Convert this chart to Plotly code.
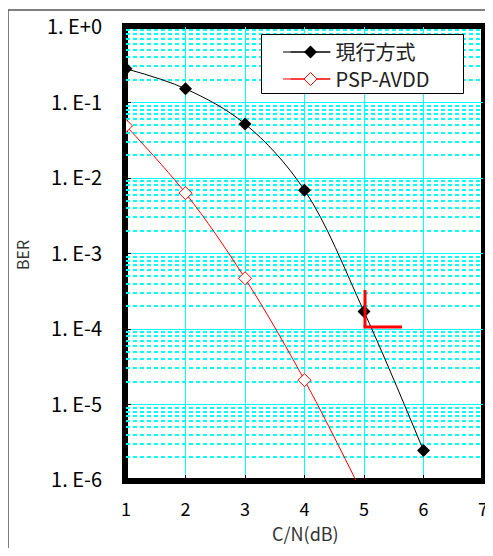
import plotly.graph_objects as go

cn_db = [1, 2, 3, 4, 5, 6]
ber_current = [0.28, 0.152, 0.052, 0.0069, 1.7e-4, 2.45e-6]
cn_db_psp = [1, 2, 3, 4, 5]
ber_psp = [0.049, 0.0063, 4.7e-4, 2.1e-5, 6e-7]
x_ticks = [1, 2, 3, 4, 5, 6, 7]
y_tickvals = [1e0, 1e-1, 1e-2, 1e-3, 1e-4, 1e-5, 1e-6]
y_ticktext = ["1. E+0", "1. E-1", "1. E-2", "1. E-3", "1. E-4", "1. E-5", "1. E-6"]
series_names = ["現行方式", "PSP-AVDD"]

minor_vals = [k * 10.0 ** d for d in range(-6, 0) for k in range(2, 10)]

# page is rendered with an 8px body margin -> work in page pixels, offset by 8
OFF = 8
W, H = 493 - 2 * OFF, 556 - 2 * OFF
L, R, T = 126 - OFF, 2, 27 - OFF
B = (H + OFF) - 480
pw, ph = W - L - R, H - T - B

def px(xp):
    return (xp - OFF - L) / pw

def py(yp):
    return (H - B - (yp - OFF)) / ph

FONT = "Noto Sans CJK JP"
CYAN = "#00FFFF"

fig = go.Figure()
fig.add_trace(go.Scatter(
    x=cn_db, y=ber_current, name=series_names[0], mode="lines+markers",
    line=dict(color="black", width=1, shape="spline"),
    marker=dict(symbol="diamond", size=10, color="black"),
    legend="legend",
))
fig.add_trace(go.Scatter(
    x=cn_db_psp, y=ber_psp, name=series_names[1], mode="lines+markers",
    line=dict(color="red", width=1, shape="spline"),
    marker=dict(symbol="diamond", size=10, color="white", line=dict(color="red", width=1)),
    legend="legend2",
))
# empty helper trace so the overlaid minor-grid axis is drawn
fig.add_trace(go.Scatter(x=[], y=[], yaxis="y2", showlegend=False, hoverinfo="skip"))

leg_common = dict(
    xanchor="left", yanchor="middle",
    bgcolor="rgba(0,0,0,0)", borderwidth=0,
    font=dict(size=20, family=FONT, color="#222"),
    itemwidth=40,
)

fig.update_layout(
    width=W, height=H,
    margin=dict(l=L, r=R, t=T, b=B, autoexpand=False),
    paper_bgcolor="white", plot_bgcolor="white",
    font=dict(family=FONT, color="black"),
    showlegend=True,
    legend=dict(x=px(285.5), y=py(52), **leg_common),
    legend2=dict(x=px(285.5), y=py(79), **leg_common),
    xaxis=dict(
        range=[1, 7], tickvals=x_ticks, ticktext=[str(v) for v in x_ticks],
        showgrid=True, gridcolor=CYAN, gridwidth=1,
        showline=True, linecolor="black", linewidth=4, mirror=True,
        ticks="inside", ticklen=5, tickcolor="black", tickwidth=1,
        tickfont=dict(size=18, family=FONT), ticklabelstandoff=10,
        ticklabeloverflow="allow",
        zeroline=False, automargin=False,
    ),
    yaxis=dict(
        type="log", range=[-6, 0],
        tickmode="array", tickvals=y_tickvals, ticktext=y_ticktext,
        showgrid=True, gridcolor=CYAN, gridwidth=1,
        showline=True, linecolor="black", linewidth=4, mirror=True,
        ticks="inside", ticklen=5, tickcolor="black", tickwidth=1,
        tickfont=dict(size=20, family=FONT), ticklabelstandoff=16,
        zeroline=False, automargin=False,
    ),
    yaxis2=dict(
        type="log", range=[-6, 0], overlaying="y", side="left", anchor="x",
        tickmode="array", tickvals=minor_vals, showticklabels=False, ticks="",
        showgrid=True, gridcolor=CYAN, gridwidth=1.5, griddash="4px,3px",
        showline=False, zeroline=False, automargin=False,
    ),
    annotations=[
        dict(text="C/N(dB)", xref="paper", yref="paper", x=px(305), y=py(533),
             showarrow=False, font=dict(size=18, family=FONT, color="#333"),
             xanchor="center", yanchor="middle"),
        dict(text="BER", xref="paper", yref="paper", x=px(22), y=py(255),
             showarrow=False, textangle=-90, font=dict(size=16, family=FONT, color="#333"),
             xanchor="center", yanchor="middle"),
    ],
    shapes=[
        dict(type="rect", xref="paper", yref="paper", x0=px(8), x1=px(540), y0=py(620), y1=py(10),
             line=dict(color="#555", width=1.5), layer="below"),
        # plot-area frame
        dict(type="rect", xref="paper", yref="paper", x0=0, x1=1, y0=0, y1=1,
             line=dict(color="black", width=4), layer="between"),
        # L-shaped red marking near 5 dB
        dict(type="line", xref="paper", yref="paper", x0=px(365), x1=px(365), y0=py(290), y1=py(327),
             line=dict(color="red", width=3)),
        dict(type="line", xref="paper", yref="paper", x0=px(363.5), x1=px(402), y0=py(327), y1=py(327),
             line=dict(color="red", width=3)),
        # legend frame and longer legend sample lines
        dict(type="rect", xref="paper", yref="paper", x0=px(261.5), x1=px(463.5), y0=py(93.5), y1=py(34.5),
             line=dict(color="black", width=1), fillcolor="white", layer="above"),
        dict(type="line", xref="paper", yref="paper", x0=px(283), x1=px(330), y0=py(52), y1=py(52),
             line=dict(color="black", width=1), layer="above"),
        dict(type="line", xref="paper", yref="paper", x0=px(283), x1=px(330), y0=py(79), y1=py(79),
             line=dict(color="red", width=1), layer="above"),
    ],
)

fig.write_html("out.html")
